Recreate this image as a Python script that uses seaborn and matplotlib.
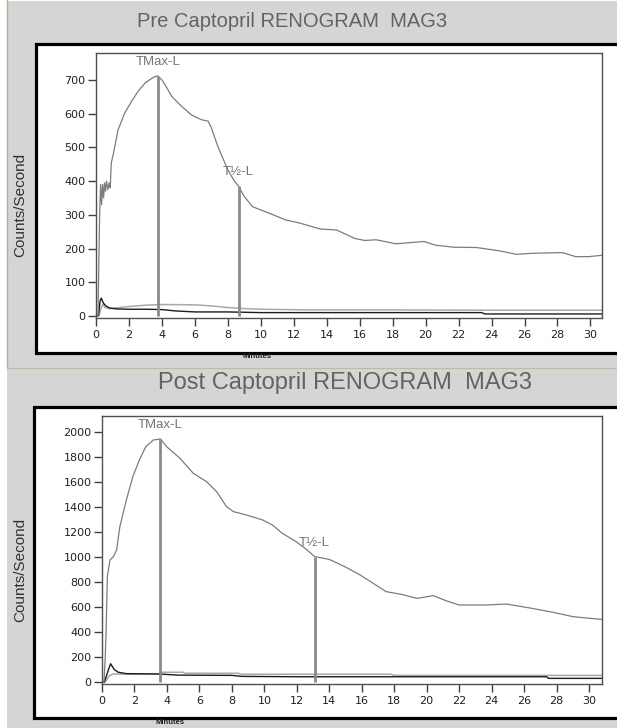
import matplotlib
matplotlib.use("Agg")
import matplotlib.pyplot as plt
from matplotlib.patches import Rectangle
from matplotlib.lines import Line2D
import seaborn as sns

W, H = 617, 728

# ---- data (minutes, counts/second) ----
pre_t = [0.0, 0.12, 0.18, 0.22, 0.28, 0.34, 0.40, 0.46, 0.52, 0.58, 0.64, 0.72, 0.80, 0.86,
         0.93, 1.05, 1.34, 1.74, 2.15, 2.55, 2.96, 3.3, 3.57, 3.75, 4.0, 4.2, 4.6, 5.1, 5.8,
         6.4, 6.8, 7.0, 7.4, 8.0, 8.4, 8.65, 9.0, 9.5, 10.5, 11.5, 12.4, 13.6, 14.6, 15.7,
         16.3, 17.0, 18.2, 19.9, 20.6, 21.7, 23.1, 24.5, 25.5, 26.5, 28.3, 29.1, 29.9, 30.7]
pre_left = [0, 0, 180, 300, 390, 330, 390, 350, 395, 370, 400, 375, 395, 380,
            455, 480, 552, 602, 636, 666, 690, 702, 710, 712, 700, 685, 651, 626, 596,
            582, 578, 558, 502, 433, 400, 385, 354, 324, 305, 285, 275, 258, 255, 230,
            224, 226, 214, 221, 210, 204, 203, 193, 183, 186, 188, 176, 176, 180]

pre_light_t = [0, 0.18, 0.3, 0.42, 0.55, 0.8, 1.2, 2.0, 3.0, 4.0, 6.0, 7.0, 8.0, 9.0,
               10.0, 11.5, 13.0, 18.0, 24.0, 30.7]
pre_light = [0, 0, 22, 35, 25, 22, 24, 28, 32, 34, 33, 30, 25, 22, 20, 19, 18, 18, 17, 17]

pre_dark_t = [0, 0.15, 0.25, 0.32, 0.45, 0.6, 0.8, 1.2, 2.0, 3.0, 4.0, 4.8, 6.0, 8.0,
              10.0, 12.0, 18.0, 23.4, 23.6, 30.7]
pre_dark = [0, 2, 45, 53, 38, 30, 24, 21, 20, 20, 19, 15, 12, 12, 10, 10, 10, 10, 6, 6]

post_t = [0, 0.12, 0.2, 0.25, 0.33, 0.49, 0.7, 0.9, 1.1, 1.5, 1.9, 2.3, 2.7, 3.16, 3.6,
          3.98, 4.8, 5.62, 6.44, 7.06, 7.67, 8.1, 8.9, 9.9, 10.5, 11.1, 11.95, 12.6, 13.1,
          14.0, 15.0, 15.9, 16.7, 17.5, 18.5, 19.4, 20.4, 21.2, 22.0, 23.7, 24.9, 26.5,
          27.8, 29.0, 30.0, 30.8]
post_left = [0, 0, 200, 392, 843, 976, 1003, 1056, 1243, 1456, 1643, 1776, 1883, 1936, 1944,
             1883, 1790, 1670, 1603, 1523, 1403, 1363, 1336, 1296, 1256, 1190, 1123, 1060, 1003,
             981, 920, 856, 790, 723, 700, 669, 691, 650, 616, 616, 624, 589,
             557, 523, 510, 501]

post_light_t = [0, 0.2, 0.45, 0.7, 1.5, 3.5, 3.6, 5.0, 5.1, 8.4, 8.5, 17.8, 18.0, 30.8]
post_light = [0, 0, 50, 65, 62, 65, 78, 78, 70, 70, 62, 62, 53, 53]

post_dark_t = [0, 0.15, 0.4, 0.53, 0.75, 1.0, 1.5, 3.5, 4.7, 8.0, 8.6, 12.0, 27.4, 27.5, 30.8]
post_dark = [0, 0, 100, 146, 100, 78, 67, 64, 55, 53, 45, 42, 42, 29, 29]

pre_marks = [("TMax-L", 3.75, 712), ("T½-L", 8.65, 385)]
post_marks = [("TMax-L", 3.6, 1944), ("T½-L", 13.1, 1003)]

titles = ["Pre Captopril RENOGRAM  MAG3", "Post Captopril RENOGRAM  MAG3"]

sns.set_theme(style="ticks")
plt.rcParams['font.family'] = ['Liberation Sans', 'DejaVu Sans']


def fx(x):
    return x / W


def fy(y):
    return 1 - y / H


fig = plt.figure(figsize=(W / 100, H / 100), dpi=100)
fig.patch.set_facecolor("white")

# grey window background and the tan borders
fig.patches.append(Rectangle((fx(7), 0), 1, fy(1), transform=fig.transFigure,
                             facecolor="#d5d5d5", edgecolor="none", zorder=0))
fig.lines.append(Line2D([fx(6.5), fx(6.5)], [fy(0), fy(368)], transform=fig.transFigure,
                        color="#c9a889", lw=1.0))
fig.lines.append(Line2D([fx(6.5), 1], [fy(368), fy(368)], transform=fig.transFigure,
                        color="#c9b79c", lw=0.8))

# black framed white boxes holding each graph
for left, top, bottom in [(36, 43.5, 352.5), (34, 406.5, 717.5)]:
    fig.patches.append(Rectangle((fx(left), fy(bottom)), 1.2, fy(top) - fy(bottom),
                                 transform=fig.transFigure, facecolor="white",
                                 edgecolor="black", lw=2.3, zorder=1))

panels = [
    dict(rect=[fx(96), fy(318), fx(602 - 96), (318 - 53) / H], ylim=(-6, 780), xmax=30.7,
         yticks=range(0, 701, 100), t=pre_t, left=pre_left, lt=pre_light_t, lv=pre_light,
         dt=pre_dark_t, dv=pre_dark, marks=pre_marks, title=titles[0], tx=292, ty=21.5,
         tsize=14.5, ylab_y=205, minutes=(257, 356)),
    dict(rect=[fx(102), fy(684), fx(602 - 102), (684 - 416) / H], ylim=(-16, 2128), xmax=30.8,
         yticks=range(0, 2001, 200), t=post_t, left=post_left, lt=post_light_t, lv=post_light,
         dt=post_dark_t, dv=post_dark, marks=post_marks, title=titles[1], tx=345, ty=383,
         tsize=17, ylab_y=570, minutes=(170, 723)),
]

for p in panels:
    ax = fig.add_axes(p["rect"], zorder=3)
    ax.set_facecolor("white")

    sns.lineplot(x=p["lt"], y=p["lv"], ax=ax, color="#a9a9a9", lw=1.1, estimator=None)
    sns.lineplot(x=p["dt"], y=p["dv"], ax=ax, color="#1c1c1c", lw=1.0, estimator=None)
    sns.lineplot(x=p["t"], y=p["left"], ax=ax, color="#7c7c7c", lw=0.9, estimator=None)

    for label, t, v in p["marks"]:
        ax.vlines(t, 0, v, color="#8a8a8a", lw=2.0, zorder=4)
        ax.annotate(label, xy=(t, v), xytext=(0, 10), textcoords="offset points",
                    ha="center", va="center", fontsize=9.5, color="#747474")

    ax.set_xlim(0, p["xmax"])
    ax.set_ylim(*p["ylim"])
    ax.set_xticks(range(0, 31, 2))
    ax.set_yticks(list(p["yticks"]))
    ax.set_xlabel("")
    ax.set_ylabel("")
    ax.tick_params(axis="y", direction="out", length=6, width=1, color="#404040",
                   pad=1.5, labelsize=8, labelcolor="#202020")
    ax.tick_params(axis="x", direction="out", length=5.5, width=1, color="#404040",
                   pad=3.5, labelsize=8, labelcolor="#202020")
    for lab in ax.get_xticklabels() + ax.get_yticklabels():
        lab.set_family("DejaVu Sans")
    for s in ax.spines.values():
        s.set_visible(True)
        s.set_color("#505050")
        s.set_linewidth(1.0)

    fig.text(fx(p["tx"]), fy(p["ty"]), p["title"], ha="center", va="center",
             fontsize=p["tsize"], color="#636363")
    fig.text(fx(20), fy(p["ylab_y"]), "Counts/Second", rotation=90, ha="center",
             va="center", fontsize=11, color="#303030")
    mx, my = p["minutes"]
    fig.text(fx(mx), fy(my), "Minutes", ha="center", va="center", fontsize=5.5,
             fontweight="bold", color="#202020", zorder=5)

fig.savefig("out.png", dpi=100, facecolor=fig.get_facecolor())
